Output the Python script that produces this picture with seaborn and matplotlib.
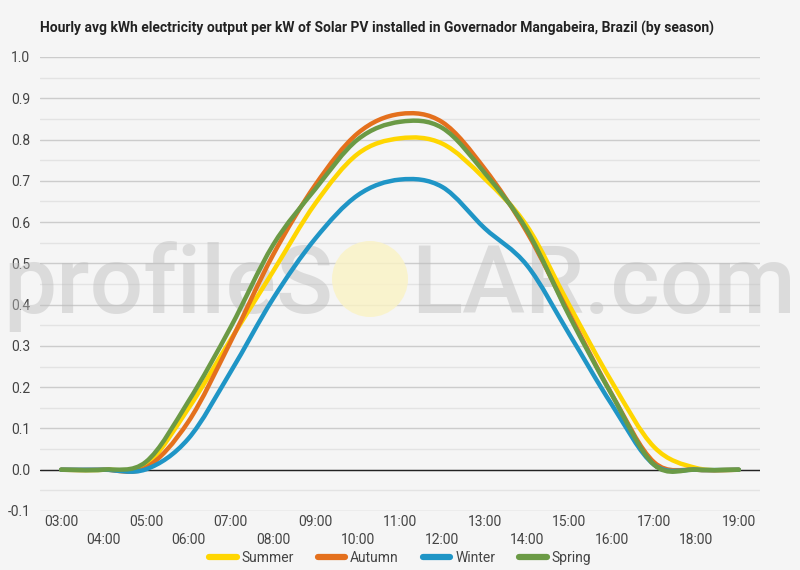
import numpy as np
import pandas as pd
import matplotlib
matplotlib.use("Agg")
import matplotlib.pyplot as plt
import seaborn as sns
from matplotlib.path import Path
from matplotlib.patches import PathPatch, Ellipse
from matplotlib.lines import Line2D

hours = ["03:00", "04:00", "05:00", "06:00", "07:00", "08:00", "09:00", "10:00",
         "11:00", "12:00", "13:00", "14:00", "15:00", "16:00", "17:00", "18:00", "19:00"]
summer = [0, 0, 0.012, 0.148, 0.315, 0.48, 0.645, 0.765, 0.803, 0.79, 0.705, 0.59, 0.398, 0.213, 0.055, 0.004, 0]
autumn = [0, 0, 0.005, 0.116, 0.31, 0.52, 0.69, 0.815, 0.862, 0.842, 0.729, 0.575, 0.377, 0.183, 0.018, 0, 0]
winter = [0, 0, 0.001, 0.075, 0.237, 0.414, 0.56, 0.665, 0.703, 0.685, 0.585, 0.495, 0.328, 0.158, 0.012, 0, 0]
spring = [0, 0, 0.019, 0.165, 0.345, 0.544, 0.68, 0.8, 0.843, 0.828, 0.719, 0.58, 0.372, 0.182, 0.012, 0, 0]
seasons = ["Summer", "Autumn", "Winter", "Spring"]
colors = ["#FFD600", "#E4701D", "#1F95C6", "#6B9A45"]
title = "Hourly avg kWh electricity output per kW of Solar PV installed in Governador Mangabeira, Brazil (by season)"

sns.set_theme(style="white")
plt.rcParams["font.family"] = ["Roboto", "DejaVu Sans"]
BG = "#f5f5f5"

rows = []
for name, vals in zip(seasons, [summer, autumn, winter, spring]):
    for i, v in enumerate(vals):
        rows.append({"idx": i, "value": v, "season": name})
df = pd.DataFrame(rows)

fig = plt.figure(figsize=(8, 5.7), dpi=100, facecolor=BG)
ax = fig.add_axes([0.05, 1 - 511 / 570, 0.9, (511 - 57) / 570])
ax.set_facecolor(BG)

sns.lineplot(data=df, x="idx", y="value", hue="season", palette=colors,
             hue_order=seasons, ax=ax, legend=False, linewidth=3.2, zorder=3)

# Smooth rendering of each seaborn line (Catmull-Rom as cubic Bezier)
for k, line in enumerate(ax.get_lines()):
    xy = np.asarray(line.get_xydata())
    n = len(xy)
    verts = [tuple(xy[0])]
    codes = [Path.MOVETO]
    for i in range(n - 1):
        p0 = xy[i - 1] if i > 0 else xy[i]
        p1 = xy[i]
        p2 = xy[i + 1]
        p3 = xy[i + 2] if i + 2 < n else xy[i + 1]
        c1 = p1 + (p2 - p0) / 6.0
        c2 = p2 - (p3 - p1) / 6.0
        verts += [tuple(c1), tuple(c2), tuple(p2)]
        codes += [Path.CURVE4] * 3
    patch = PathPatch(Path(verts, codes), facecolor="none", edgecolor=line.get_color(),
                      lw=3.2, capstyle="round", joinstyle="round", zorder=3 + k * 0.1)
    ax.add_patch(patch)
    line.set_visible(False)

ax.set_xlim(-0.5, len(hours) - 0.5)
ax.set_ylim(-0.1, 1.0)
yt = np.round(np.arange(-0.1, 1.01, 0.1), 1)
ax.set_yticks(yt)
ax.set_yticklabels([f"{v:.1f}" for v in yt])
ax.set_yticks(np.round(np.arange(-0.05, 1.0, 0.1), 2), minor=True)
ax.grid(axis="y", which="major", color="#cccccc", lw=1)
ax.grid(axis="y", which="minor", color="#e3e3e3", lw=1)
ax.grid(axis="x", visible=False)
ax.set_axisbelow(True)
ax.axhline(0, color="#222222", lw=1, zorder=2)
for s in ax.spines.values():
    s.set_visible(False)

ax.set_xticks(range(len(hours)))
ax.set_xticklabels(hours)
ax.tick_params(axis="both", which="both", length=0, labelsize=10, labelcolor="#444444")
ax.tick_params(axis="y", pad=7)
for i, t in enumerate(ax.xaxis.get_major_ticks()):
    t.set_pad(3 if i % 2 == 0 else 16)
ax.set_xlabel("")
ax.set_ylabel("")

# Title
fig.text(40 / 800, 1 - 28 / 570, title, fontsize=10, fontweight="bold", color="#222222",
         ha="left", va="center")

# Watermark
wm = dict(transform=fig.transFigure, fontsize=68, color="#bdbdbd", alpha=0.45,
          ha="left", va="baseline", zorder=1, clip_on=False, fontweight="medium")
ax.text(3 / 800, 1 - 313 / 570, "profileS", **wm)
ax.text(411 / 800, 1 - 313 / 570, "LAR.com", **wm)
ax.add_artist(Ellipse((370 / 800, 1 - 279 / 570), 76 / 800, 76 / 570, transform=fig.transFigure,
                      facecolor="#fbf3c4", alpha=0.8, edgecolor="none", zorder=1, clip_on=False))

# Legend
handles = [Line2D([0], [0], color=c, lw=4.5) for c in colors]
fig.legend(handles, seasons, loc="center", bbox_to_anchor=(0.5, 1 - 558 / 570), ncol=4,
           frameon=False, fontsize=10, handlelength=2.0, handletextpad=0.35,
           columnspacing=1.7, labelcolor="#444444")

fig.savefig("out.png", dpi=100, facecolor=BG)
